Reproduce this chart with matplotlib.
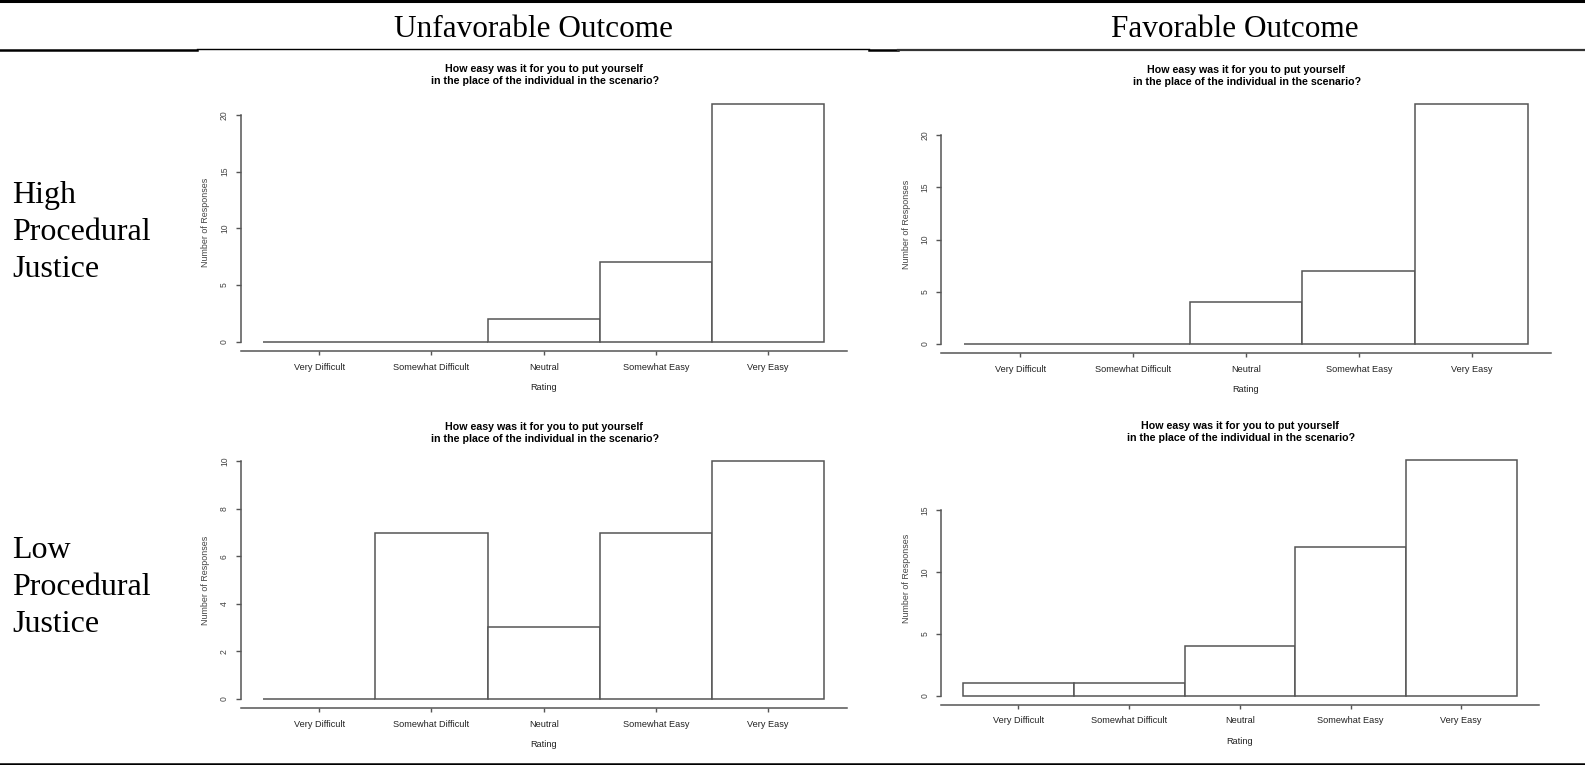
import numpy as np
import matplotlib.pyplot as plt

W, H = 1585, 765

ratings = ["Very Difficult", "Somewhat Difficult", "Neutral", "Somewhat Easy", "Very Easy"]
high_unfav = [0, 0, 2, 7, 21]
high_fav = [0, 0, 4, 7, 23]
low_unfav = [0, 7, 3, 7, 10]
low_fav = [1, 1, 4, 12, 19]

yticks_high_unfav = [0, 5, 10, 15, 20]
yticks_high_fav = [0, 5, 10, 15, 20]
yticks_low_unfav = [0, 2, 4, 6, 8, 10]
yticks_low_fav = [0, 5, 10, 15]

col_titles = ["Unfavorable Outcome", "Favorable Outcome"]
row_titles = [["High", "Procedural", "Justice"], ["Low", "Procedural", "Justice"]]
question = "How easy was it for you to put yourself\n in the place of the individual in the scenario?"

AX_COL = "#555555"
TXT_COL = "#222222"
SANS = ["Liberation Sans", "DejaVu Sans"]
SERIF = ["Liberation Serif", "DejaVu Serif"]


def px_box(left, top, right, bottom):
    return [left / W, 1 - bottom / H, (right - left) / W, (bottom - top) / H]


def hist_panel(fig, box, counts, yticks):
    ax = fig.add_axes(px_box(*box))
    x = np.arange(len(counts)) + 0.5
    ymax = max(counts)
    ax.bar(x, counts, width=1.0, facecolor="white", edgecolor=AX_COL, linewidth=1.1)
    ax.set_xlim(-0.2, len(counts) + 0.2)
    ax.set_ylim(-0.04 * ymax, 1.04 * ymax)

    for s in ["top", "right"]:
        ax.spines[s].set_visible(False)
    for s in ["left", "bottom"]:
        ax.spines[s].set_color(AX_COL)
        ax.spines[s].set_linewidth(1.1)
    ax.spines["left"].set_bounds(yticks[0], yticks[-1])

    ax.set_yticks(yticks)
    ax.set_yticklabels([str(t) for t in yticks], rotation=90, va="center",
                       fontsize=6.2, color="#444444", family=SANS)
    ax.set_xticks(x)
    ax.set_xticklabels(ratings, fontsize=6.6, color=TXT_COL, family=SANS)
    ax.tick_params(axis="y", length=3.4, width=1, color=AX_COL, pad=5)
    ax.tick_params(axis="x", length=3.2, width=1, color=AX_COL, pad=5)

    ax.set_xlabel("Rating", fontsize=6.6, color=TXT_COL, family=SANS, labelpad=8)
    ax.set_ylabel("Number of Responses", fontsize=6.4, color="#444444", family=SANS, labelpad=7)
    ax.set_title(question, fontsize=7.7, fontweight="bold", color="black",
                 family=SANS, pad=7, linespacing=1.27)
    return ax


fig = plt.figure(figsize=(W / 100, H / 100), dpi=100)

hist_panel(fig, (240.7, 94.0, 846.7, 351.2), high_unfav, yticks_high_unfav)
hist_panel(fig, (941.0, 94.5, 1551.0, 353.4), high_fav, yticks_high_fav)
hist_panel(fig, (240.7, 451.8, 846.7, 708.2), low_unfav, yticks_low_unfav)
hist_panel(fig, (941.0, 451.0, 1538.7, 705.0), low_fav, yticks_low_fav)

# table rules
rule = fig.add_axes([0, 0, 1, 1], zorder=-1)
rule.set_xlim(0, W)
rule.set_ylim(H, 0)
rule.axis("off")
rule.plot([0, W], [1.2, 1.2], color="black", lw=2.2)
rule.plot([0, 197], [49.8, 49.8], color="black", lw=1.8)
rule.plot([197, 869], [49.3, 49.3], color="black", lw=1.0)
rule.plot([869, 898], [49.5, 49.5], color="black", lw=1.8)
rule.plot([898, W], [49.5, 49.5], color="#333333", lw=1.6)
rule.plot([0, W], [763.8, 763.8], color="black", lw=1.8)

# column headers
for cx, label in zip([533, 1235], col_titles):
    rule.text(cx, 37, label, ha="center", va="baseline", fontsize=22.5,
              family=SERIF, color="black")

# row headers
for base, lines in zip([203, 558], row_titles):
    for i, line in enumerate(lines):
        rule.text(12, base + i * 36.8, line, ha="left", va="baseline",
                  fontsize=23, family=SERIF, color="black")

plt.savefig("out.png", dpi=100)
